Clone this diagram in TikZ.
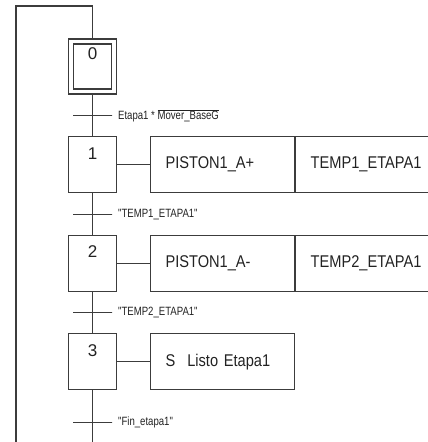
\documentclass[tikz,border=0pt]{standalone}
\usepackage{fontspec}
\setmainfont{Liberation Sans}
\newfontfamily\actfont[FakeStretch=0.86]{Liberation Sans}
\newfontfamily\condfont[FakeStretch=0.8]{Liberation Sans}
\usetikzlibrary{positioning}

\definecolor{grafline}{HTML}{3C3C3C}
\definecolor{graftext}{HTML}{222222}

\tikzset{
  stepbox/.style={draw, minimum width=48.4pt, inner xsep=0pt, inner ysep=10pt,
    text height=12.6pt, text depth=23.4pt, font=\fontsize{17}{20}\selectfont},
  initbox/.style={draw, minimum width=48.4pt, minimum height=55pt, inner sep=0pt},
  actbox/.style={draw, minimum height=56pt, inner xsep=15pt, text width=#1,
    align=left, font=\actfont\fontsize{17}{20}\selectfont},
  trans/.style={draw, minimum width=39pt, minimum height=0pt, inner sep=0pt},
  cond/.style={font=\condfont\fontsize{12}{14}\selectfont, inner sep=0pt},
}

\begin{document}
\begin{tikzpicture}[x=1pt, y=-1pt, line width=1.1pt, draw=grafline, text=graftext]
    \useasboundingbox (0,0) rectangle (428,442);

    % Initial step
    \node[initbox] (s0) at (92.5,66.5) {};
    \node[draw, minimum width=38.7pt, inner xsep=0pt, inner ysep=3pt,
      text height=12.6pt, text depth=26.4pt, font=\fontsize{17}{20}\selectfont]
      (s0i) at (92.5,66.5) {0};

    % Steps
    \node[stepbox] (s1) at (92.5,164.7) {1};
    \node[stepbox] (s2) at (92.5,263.3) {2};
    \node[stepbox] (s3) at (92.5,361.7) {3};

    % Actions
    \node[actbox=114pt, anchor=west] (a1) at (150,164.7) {PISTON1\_A+};
    \node[actbox=116pt, right=0pt of a1] (b1) {TEMP1\_ETAPA1};
    \node[actbox=114pt, anchor=west] (a2) at (150,263.3) {PISTON1\_A-};
    \node[actbox=116pt, right=0pt of a2] (b2) {TEMP2\_ETAPA1};
    \node[actbox=114pt, anchor=west] (a3) at (150,361.7) {S\hspace{12pt}Listo Etapa1};

    \draw (s1) -- (a1);
    \draw (s2) -- (a2);
    \draw (s3) -- (a3);

    % Transitions
    \node[trans] (t0) at (92.5,115.7) {};
    \node[trans] (t1) at (92.5,214.3) {};
    \node[trans] (t2) at (92.5,312.7) {};
    \node[trans] (t3) at (92.5,422.7) {};

    \node[cond, right=5pt of t0] (c0) {Etapa1 * \(\overline{\hbox{Mover\_BaseG}}\)};
    \node[cond, right=5pt of t1] (c1) {"TEMP1\_ETAPA1"};
    \node[cond, right=5pt of t2] (c2) {"TEMP2\_ETAPA1"};
    \node[cond, right=5pt of t3] (c3) {"Fin\_etapa1"};

    % Sequence
    \draw (s0) -- (t0) -- (s1);
    \draw (s1) -- (t1) -- (s2);
    \draw (s2) -- (t2) -- (s3);

    % Return loop
    \coordinate (bot) at (92.5,442);
    \coordinate (lb) at (16,442);
    \coordinate (lt) at (16,6);
    \coordinate (rt) at (92.5,6);
    \draw (s3) -- (t3) -- (bot);
    \draw (lb) -- (lt) -- (rt) -- (s0);
\end{tikzpicture}
\end{document}
